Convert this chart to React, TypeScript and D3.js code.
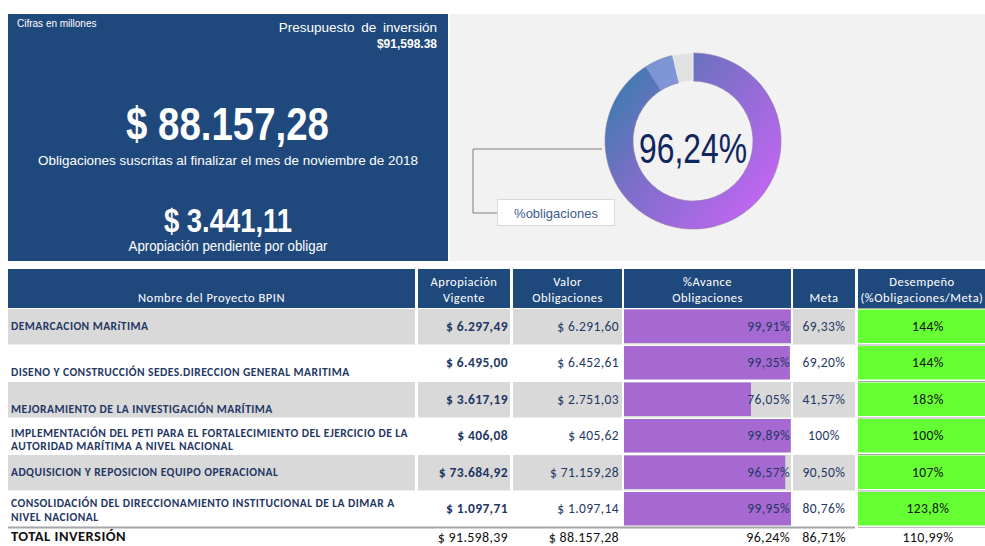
import React from 'react';
import * as d3 from 'd3';

// ---------- DATA ----------
const kpiPresupuesto = 91598.38;
const kpiObligaciones = 88157.28;
const kpiPendiente = 3441.11;
const donutValues = [96.24, 3.76];
const donutLabel = '%obligaciones';

const headerLabels = [
  ['Nombre del Proyecto BPIN'],
  ['Apropiación', 'Vigente'],
  ['Valor', 'Obligaciones'],
  ['%Avance', 'Obligaciones'],
  ['Meta'],
  ['Desempeño', '(%Obligaciones/Meta)'],
];
const projectNames = [
  ['DEMARCACION MARíTIMA'],
  ['DISENO Y CONSTRUCCIÓN SEDES.DIRECCION GENERAL MARITIMA'],
  ['MEJORAMIENTO DE LA INVESTIGACIÓN MARÍTIMA'],
  ['IMPLEMENTACIÓN DEL PETI PARA EL FORTALECIMIENTO DEL EJERCICIO DE LA', 'AUTORIDAD MARÍTIMA A NIVEL NACIONAL'],
  ['ADQUISICION Y REPOSICION EQUIPO OPERACIONAL'],
  ['CONSOLIDACIÓN DEL DIRECCIONAMIENTO INSTITUCIONAL DE LA DIMAR A', 'NIVEL NACIONAL'],
];
const apropiacion = [6297.49, 6495.0, 3617.19, 406.08, 73684.92, 1097.71];
const obligaciones = [6291.6, 6452.61, 2751.03, 405.62, 71159.28, 1097.14];
const avance = [99.91, 99.35, 76.05, 99.89, 96.57, 99.95];
const meta = [69.33, 69.2, 41.57, 100, 90.5, 80.76];
const desempeno = [144, 144, 183, 100, 107, 123.8];
const totalLabel = 'TOTAL INVERSIÓN';
const totalApropiacion = 91598.39;
const totalObligaciones = 88157.28;
const totalAvance = 96.24;
const totalMeta = 86.71;
const totalDesempeno = 110.99;

// ---------- FORMATS ----------
const es = d3.formatLocale({ decimal: ',', thousands: '.', grouping: [3], currency: ['$ ', ''] });
const money = es.format('$,.2f');
const pct2 = (v: number) => es.format(',.2f')(v) + '%';
const metaFmt = (v: number) => (Number.isInteger(v) ? `${v}%` : pct2(v));
const desFmt = (v: number) => es.format('.1~f')(v) + '%';
const usMoney = d3.format('$,.2f');

const NAVY = '#1f497d';
const TXT = '#1f3864';
const GREY = '#d9d9d9';
const TF = 'Carlito, Lato, sans-serif';
const AF = '"Liberation Sans", Arial, sans-serif';

export default function App() {
  const W = 985, H = 546;
  const cols = [
    [8, 415], [418, 510], [513, 622], [624, 791], [793, 855], [858, 992],
  ];
  const rows = d3.scaleBand<number>().domain(d3.range(projectNames.length)).range([308, 527]).paddingInner(0);
  const step = rows.step();
  const xBar = d3.scaleLinear().domain([0, 100]).range([cols[3][0], cols[3][1]]);
  const nameOffsets = [[22], [31.5], [32], [19.5, 32.5], [22], [16.5, 30.5]];

  const cx = 693, cy = 141, rO = 88, rI = 60;
  const pie = d3.pie<number>().sort(null).value(d => d);
  const arcs = pie(donutValues);
  const arc = d3.arc<d3.PieArcDatum<number>>().innerRadius(rI).outerRadius(rO);
  const hlArc = d3.arc()({
    innerRadius: rI, outerRadius: rO,
    startAngle: arcs[0].endAngle - (2 * Math.PI * 5.3) / 100,
    endAngle: arcs[0].endAngle,
  } as any) as string;

  const colCenter = (i: number) => (cols[i][0] + cols[i][1]) / 2;
  const numStyle = { fontFamily: TF, fontSize: 13.5, letterSpacing: 0.4 } as const;
  const totStyle = { fontFamily: TF, fontSize: 14, letterSpacing: 0.3, fill: '#111' } as const;
  const centerLabel = pct2(donutValues[0]).replace(/\./g, '');

  return (
    <svg width={W} height={H} style={{ position: 'absolute', left: 0, top: 0, background: '#fff' }}>
      <defs>
        <linearGradient id="dg" gradientUnits="userSpaceOnUse" x1={-88} y1={-40} x2={70} y2={80}>
          <stop offset="0" stopColor="#3f7bb0" />
          <stop offset="0.3" stopColor="#7470c4" />
          <stop offset="1" stopColor="#c865f5" />
        </linearGradient>
        <clipPath id="clipW"><rect x={0} y={0} width={W} height={H} /></clipPath>
      </defs>

      {/* KPI panel */}
      <rect x={8} y={14} width={440} height={247} fill={NAVY} />
      <g fill="#fff" fontFamily={AF}>
        <text x={17} y={27} fontSize={10}>Cifras en millones</text>
        <text x={437} y={32} fontSize={13.5} textAnchor="end" wordSpacing={3}>Presupuesto de inversión</text>
        <text x={437} y={48} fontSize={12} fontWeight="bold" textAnchor="end">{usMoney(kpiPresupuesto)}</text>
        <text x={227.5} y={140} fontSize={46} fontWeight="bold" textAnchor="middle" textLength={203} lengthAdjust="spacingAndGlyphs">{money(kpiObligaciones)}</text>
        <text x={228} y={165} fontSize={13.5} textAnchor="middle" textLength={380} lengthAdjust="spacingAndGlyphs">Obligaciones suscritas al finalizar el mes de noviembre de 2018</text>
        <text x={228} y={232} fontSize={33} fontWeight="bold" textAnchor="middle" textLength={128} lengthAdjust="spacingAndGlyphs">{money(kpiPendiente)}</text>
        <text x={228} y={251} fontSize={14} textAnchor="middle" textLength={199} lengthAdjust="spacingAndGlyphs">Apropiación pendiente por obligar</text>
      </g>

      {/* Donut panel */}
      <rect x={450} y={14} width={535} height={247} fill="#f2f2f2" />
      <g transform={`translate(${cx},${cy})`}>
        <path d={arc(arcs[0]) as string} fill="url(#dg)" stroke="#8e7aa6" strokeWidth={0.6} />
        <path d={arc(arcs[1]) as string} fill="#e1e1e1" stroke="#f2f2f2" strokeWidth={1} />
        <path d={hlArc} fill="#8ea3e0" opacity={0.7} />
        <text x={0} y={22} textAnchor="middle" fontFamily={AF} fontSize={43} fill="#10265e" textLength={108} lengthAdjust="spacingAndGlyphs">
          {centerLabel}
        </text>
      </g>
      <polyline points="602,149 473,149 473,213 497,213" fill="none" stroke="#7f7f7f" strokeWidth={1} />
      <rect x={497.5} y={199.5} width={117} height={26} fill="#fff" stroke="#d9d9d9" />
      <text x={556} y={218} textAnchor="middle" fontFamily={AF} fontSize={13} fill="#3d5a8e">{donutLabel}</text>

      <g clipPath="url(#clipW)">
        {cols.map((c, i) => (
          <rect key={i} x={c[0]} y={269} width={c[1] - c[0]} height={39} fill={NAVY} />
        ))}
        {headerLabels.map((lines, i) => (
          <g key={i}>
            {lines.map((l, j) => (
              <text key={j} x={colCenter(i) - (i === 5 ? 3 : 0)} y={lines.length === 1 ? 302 : 286 + j * 16}
                textAnchor="middle" fontFamily={TF} fontSize={12.5} fill="#fff" letterSpacing={0.5}>{l}</text>
            ))}
          </g>
        ))}

        {projectNames.map((lines, r) => {
          const y0 = rows(r) as number;
          const grey = r % 2 === 0;
          const mid = y0 + step / 2 + 4.5;
          return (
            <g key={r}>
              {grey && [0, 1, 2, 3, 4].map(ci => (
                <rect key={ci} x={cols[ci][0]} y={y0 + 1} width={cols[ci][1] - cols[ci][0]} height={step - 1} fill={GREY} />
              ))}
              <rect x={cols[3][0]} y={y0 + 1.5} width={xBar(avance[r]) - cols[3][0]} height={step - 3} fill="#a569d1" />
              <rect x={cols[5][0]} y={y0 + 1.5} width={cols[5][1] - cols[5][0]} height={step - 3} fill="#66ff33" />
              <line x1={cols[5][0]} x2={cols[5][1]} y1={y0 + 0.5} y2={y0 + 0.5} stroke="#a6a6a6" strokeWidth={1} />
              {lines.map((l, j) => (
                <text key={j} x={11} y={y0 + nameOffsets[r][j]} fontFamily={TF} fontSize={11.5} letterSpacing={0.45} fontWeight="bold" fill={TXT}>{l}</text>
              ))}
              <text x={cols[1][1] - 2} y={mid} textAnchor="end" {...numStyle} fontWeight="bold" fill={TXT}>{money(apropiacion[r])}</text>
              <text x={cols[2][1] - 3} y={mid} textAnchor="end" {...numStyle} fill={TXT}>{money(obligaciones[r])}</text>
              <text x={cols[3][1] - 1} y={mid} textAnchor="end" {...numStyle} fill={TXT}>{pct2(avance[r])}</text>
              <text x={colCenter(4)} y={mid} textAnchor="middle" {...numStyle} fill={TXT}>{metaFmt(meta[r])}</text>
              <text x={colCenter(5) + 3} y={mid} textAnchor="middle" {...numStyle} fill="#111">{desFmt(desempeno[r])}</text>
            </g>
          );
        })}
        <line x1={8} x2={855} y1={527.5} y2={527.5} stroke="#a6a6a6" strokeWidth={2} />
        <line x1={cols[5][0]} x2={cols[5][1]} y1={527.5} y2={527.5} stroke="#bfbfbf" strokeWidth={1} />

        <text x={11} y={541} fontFamily={TF} fontSize={14.5} letterSpacing={0.5} fontWeight="bold" fill="#111">{totalLabel}</text>
        <text x={cols[1][1] - 2} y={542} textAnchor="end" {...totStyle}>{money(totalApropiacion)}</text>
        <text x={cols[2][1] - 3} y={542} textAnchor="end" {...totStyle}>{money(totalObligaciones)}</text>
        <text x={cols[3][1] - 1} y={542} textAnchor="end" {...totStyle}>{pct2(totalAvance)}</text>
        <text x={colCenter(4)} y={542} textAnchor="middle" {...totStyle}>{pct2(totalMeta)}</text>
        <text x={colCenter(5) + 3} y={542} textAnchor="middle" {...totStyle}>{pct2(totalDesempeno)}</text>
      </g>
    </svg>
  );
}
